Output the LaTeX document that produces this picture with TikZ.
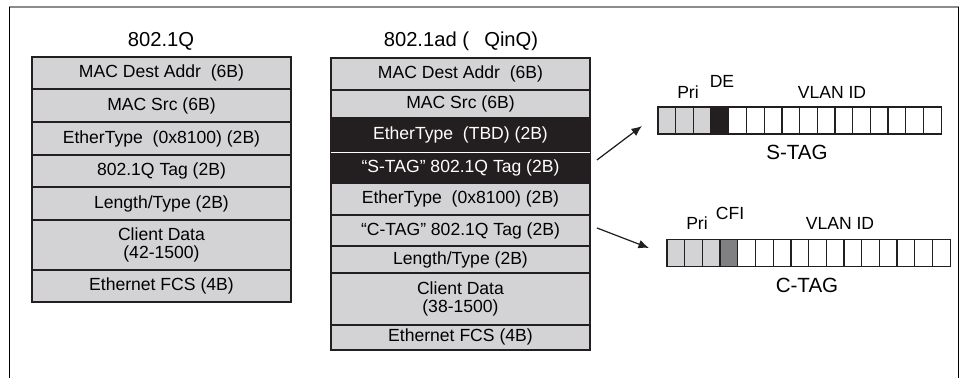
\documentclass[tikz,border=0pt]{standalone}
\usepackage{fontspec}
\setmainfont{Liberation Sans}
\usetikzlibrary{positioning,calc,arrows.meta}

\definecolor{rowgray}{RGB}{211,211,213}
\definecolor{tagblack}{RGB}{35,31,32}
\definecolor{cfigray}{RGB}{128,128,130}
\definecolor{framegray}{RGB}{140,140,140}

\begin{document}
\begin{tikzpicture}[x=0.02cm, y=-0.02cm]
      \tikzset{>={Latex[length=6pt,width=5pt]}}
      \tikzset{
        row/.style={draw=tagblack, fill=rowgray, line width=1.1pt, minimum width=5.18cm,
          inner sep=0pt, outer sep=0pt, align=center, font=\fontsize{10}{10.4}\selectfont},
        tagrow/.style={row, fill=tagblack, text=white},
        title/.style={font=\fontsize{11.5}{13}\selectfont},
        bitcell/.style={draw=tagblack, fill=white, line width=0.7pt, minimum width=0.354cm,
          minimum height=0.54cm, inner sep=0pt, outer sep=0pt, anchor=west},
        bitlabel/.style={font=\fontsize{10}{12}\selectfont},
        taglabel/.style={font=\fontsize{11.7}{13}\selectfont}
      }
      \useasboundingbox (0,0) rectangle (961,378);

      % frame
      \draw[framegray, line width=0.8pt] (9,7) -- (959,7);
      \draw[line width=0.8pt] (9.5,7) -- (9.5,378);
      \draw[line width=0.8pt] (958.5,7) -- (958.5,378);

      % 802.1Q frame
      \node[title] (qtitle) at (161,41) {802.1Q};
      \node[row, minimum height=0.64cm, anchor=north west] (qdest) at (32,57) {MAC Dest Addr~ (6B)};
      \node[row, minimum height=0.66cm, below=0pt of qdest] (qsrc) {MAC Src (6B)};
      \node[row, minimum height=0.66cm, below=0pt of qsrc] (qtype) {EtherType~ (0x8100) (2B)};
      \node[row, minimum height=0.64cm, below=0pt of qtype] (qtag) {802.1Q Tag (2B)};
      \node[row, minimum height=0.66cm, below=0pt of qtag] (qlen) {Length/Type (2B)};
      \node[row, minimum height=1.0cm, below=0pt of qlen] (qdata) {Client Data\\(42-1500)};
      \node[row, minimum height=0.64cm, below=0pt of qdata] (qfcs) {Ethernet FCS (4B)};

      % 802.1ad frame
      \node[title] (adtitle) at (461,41) {802.1ad (\hspace{0.75em}QinQ)};
      \node[row, minimum height=0.64cm, anchor=north west] (addest) at (331,58) {MAC Dest Addr~ (6B)};
      \node[row, minimum height=0.56cm, below=0pt of addest] (adsrc) {MAC Src (6B)};
      \node[tagrow, minimum height=0.68cm, below=0pt of adsrc] (adstype) {EtherType~ (TBD) (2B)};
      \node[tagrow, minimum height=0.62cm, below=0pt of adstype] (adstag) {“S-TAG” 802.1Q Tag (2B)};
      \node[row, minimum height=0.64cm, below=0pt of adstag] (adctype) {EtherType~ (0x8100) (2B)};
      \node[row, minimum height=0.62cm, below=0pt of adctype] (adctag) {“C-TAG” 802.1Q Tag (2B)};
      \node[row, minimum height=0.54cm, below=0pt of adctag] (adlen) {Length/Type (2B)};
      \node[row, minimum height=1.04cm, below=0pt of adlen] (addata) {Client Data\\(38-1500)};
      \node[row, minimum height=0.5cm, below=0pt of addata] (adfcs) {Ethernet FCS (4B)};
      \draw[white, line width=0.5pt] (adstype.south west) -- (adstype.south east);

      % S-TAG bits
      \foreach \i in {0,1,2}
          \node[bitcell, fill=rowgray] (s\i) at ({658+17.7*\i},120.5) {};
      \node[bitcell, fill=tagblack] (s3) at ({658+17.7*3},120.5) {};
      \foreach \i in {4,...,15}
          \node[bitcell] (s\i) at ({658+17.7*\i},120.5) {};
      \node[bitlabel] (spri) at (688,92) {Pri};
      \node[bitlabel] (sde) at (722,81) {DE};
      \node[bitlabel] (svid) at (832,92) {VLAN ID};
      \node[taglabel] (sname) at (797,152) {S-TAG};

      % C-TAG bits
      \foreach \i in {0,1,2}
          \node[bitcell, fill=rowgray] (c\i) at ({667+17.7*\i},253) {};
      \node[bitcell, fill=cfigray] (c3) at ({667+17.7*3},253) {};
      \foreach \i in {4,...,15}
          \node[bitcell] (c\i) at ({667+17.7*\i},253) {};
      \node[bitlabel] (cpri) at (697,223) {Pri};
      \node[bitlabel] (ccfi) at (730,213) {CFI};
      \node[bitlabel] (cvid) at (840,223) {VLAN ID};
      \node[taglabel] (cname) at (807,285) {C-TAG};

      % arrows
      \coordinate (sfrom) at ($(adstag.north east)+(7,8)$);
      \coordinate (sto) at ($(s0.west)+(-16,5.5)$);
      \coordinate (cfrom) at ($(adctag.north east)+(7,13)$);
      \coordinate (cto) at ($(c0.west)+(-18,-5)$);
      \draw[->, line width=0.7pt, tagblack] (sfrom) -- (sto);
      \draw[->, line width=0.7pt, tagblack] (cfrom) -- (cto);
\end{tikzpicture}
\end{document}
